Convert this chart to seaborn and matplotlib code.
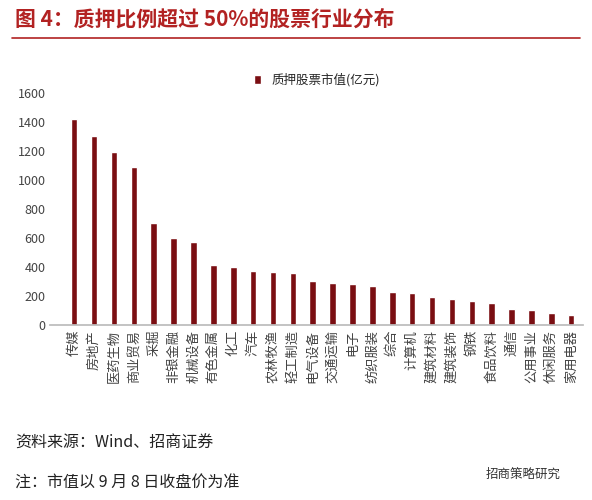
import matplotlib
matplotlib.use("Agg")
import matplotlib.pyplot as plt
import seaborn as sns
import pandas as pd

categories = ["传媒","房地产","医药生物","商业贸易","采掘","非银金融","机械设备","有色金属","化工","汽车",
              "农林牧渔","轻工制造","电气设备","交通运输","电子","纺织服装","综合","计算机","建筑材料","建筑装饰",
              "钢铁","食品饮料","通信","公用事业","休闲服务","家用电器"]
values = [1420,1300,1190,1090,700,600,570,415,400,370,365,360,300,290,280,270,230,220,190,180,165,150,110,100,80,70]
yticks = [0,200,400,600,800,1000,1200,1400,1600]

sns.set_theme(style="white")
plt.rcParams['font.family'] = ['Noto Sans CJK SC', 'DejaVu Sans']

fig = plt.figure(figsize=(5.92,5.0), dpi=100)
ax = fig.add_axes([0.085, 0.35, 0.9, 0.465])
df = pd.DataFrame({"cat": categories, "val": values})
sns.barplot(data=df, x="cat", y="val", color="#7A0E12", width=0.33, ax=ax, label="质押股票市值(亿元)", saturation=1)
ax.set_ylim(0,1600)
ax.set_yticks(yticks)
ax.set_yticklabels([str(t) for t in yticks], fontsize=9, color="#444444")
ax.set_xlabel(""); ax.set_ylabel("")
ax.set_xticks(range(len(categories)))
ax.set_xticklabels(categories, rotation=90, fontsize=9.5, color="#444444")
for s in ["top","right","left"]:
    ax.spines[s].set_visible(False)
ax.spines["bottom"].set_color("#bbbbbb")
ax.tick_params(axis="both", length=0)
ax.set_xlim(-1.2, len(categories)-0.4)
ax.legend(loc="upper center", bbox_to_anchor=(0.5, 1.13), frameon=False, fontsize=9, handlelength=0.6, handleheight=0.8)

fig.text(0.025, 0.95, "图 4：质押比例超过 50%的股票行业分布", fontsize=15, fontweight="bold", color="#B22222")
fig.add_artist(plt.Line2D([0.02, 0.98], [0.925, 0.925], color="#B22222", lw=1.2))
fig.text(0.025, 0.105, "资料来源：Wind、招商证券", fontsize=11.5, color="#222222")
fig.text(0.025, 0.025, "注：市值以 9 月 8 日收盘价为准", fontsize=11.5, color="#222222")
fig.text(0.82, 0.045, "招商策略研究", fontsize=9, color="#333333")
fig.savefig("out.png", dpi=100)
